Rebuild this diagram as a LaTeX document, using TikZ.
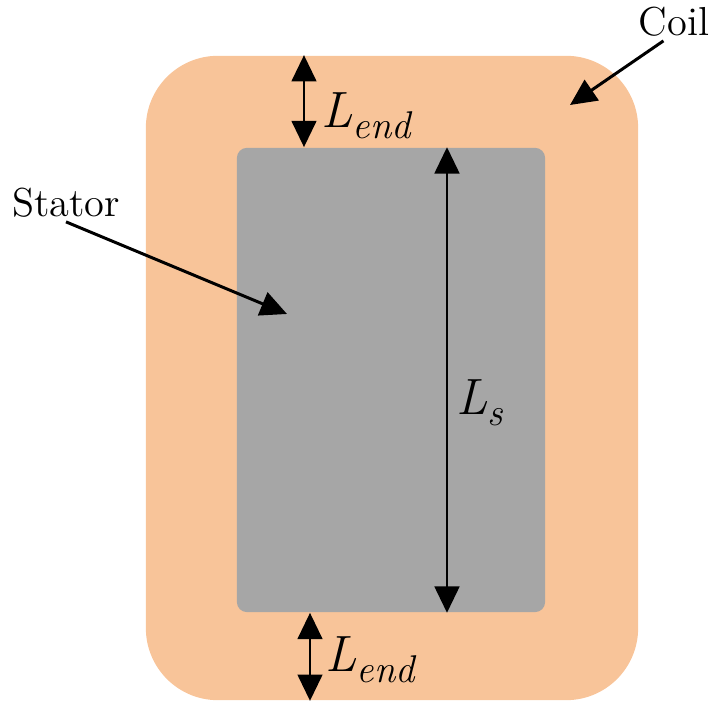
\documentclass[tikz,border=0pt]{standalone}
\usetikzlibrary{arrows.meta, positioning}
\newcommand{\lowsub}[1]{\raisebox{-0.5ex}{\fontsize{11}{11}\selectfont\itshape #1}}

\begin{document}
\begin{tikzpicture}[
    x=0.01cm, y=-0.01cm,
    part/.style={rectangle, draw=none, inner sep=0pt},
    lbl/.style={font=\fontsize{11.5}{14}\selectfont, inner sep=1pt},
    dimlbl/.style={font=\fontsize{14.5}{16}\selectfont\itshape, inner sep=1pt},
    arrow/.style={-{Triangle[length=7.5pt,width=7pt]}, line width=0.85pt},
    dim/.style={{Triangle[length=7.5pt,width=7pt]}-{Triangle[length=7.5pt,width=7pt]}, line width=0.85pt}
]
\useasboundingbox (0,0) rectangle (714,707);
\definecolor{coilcol}{HTML}{F8C499}
\definecolor{statcol}{HTML}{A6A6A6}

\node[part, fill=coilcol, minimum width=4.92cm, minimum height=6.44cm, rounded corners=0.72cm] (coil) at (392,378) {};
\node[part, fill=statcol, minimum width=3.08cm, minimum height=4.64cm, rounded corners=0.1cm] (stator) at (391,380) {};

% dimension lines
\coordinate (xtop) at (304,0);
\coordinate (xbot) at (310,0);
\coordinate (xls) at (447,0);
\draw[dim] (coil.north -| xtop) -- (stator.north -| xtop);
\draw[dim] (stator.south -| xbot) -- (coil.south -| xbot);
\draw[dim] (stator.north -| xls) -- (stator.south -| xls);

\node[dimlbl] (lendtop) at (366,116) {L\lowsub{end}};
\node[dimlbl] (lendbot) at (370,660) {L\lowsub{end}};
\node[dimlbl] (ls) at (480,403) {L\lowsub{s}};

% labels
\node[lbl] (coillbl) at (674,22) {Coil};
\node[lbl] (statorlbl) at (66,203) {Stator};
\coordinate (coilpt) at (570,105);
\coordinate (statorpt) at (287,314);
\draw[arrow] ([xshift=-3pt]coillbl.south) -- (coilpt);
\draw[arrow] (statorlbl.south) -- (statorpt);
\end{tikzpicture}
\end{document}
